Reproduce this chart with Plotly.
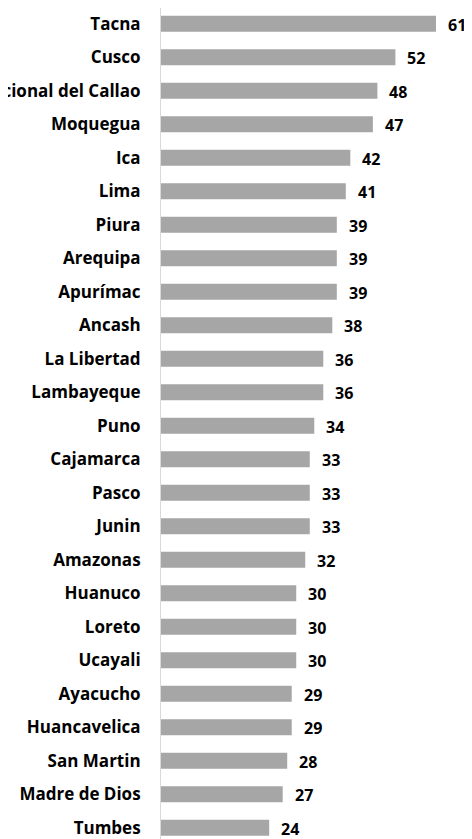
import plotly.graph_objects as go

regions = ["Tacna", "Cusco", "Provincia Constitucional del Callao", "Moquegua", "Ica", "Lima",
           "Piura", "Arequipa", "Apurímac", "Ancash", "La Libertad", "Lambayeque", "Puno",
           "Cajamarca", "Pasco", "Junin", "Amazonas", "Huanuco", "Loreto", "Ucayali",
           "Ayacucho", "Huancavelica", "San Martin", "Madre de Dios", "Tumbes"]
values = [61, 52, 48, 47, 42, 41, 39, 39, 39, 38, 36, 36, 34, 33, 33, 33, 32, 30, 30, 30,
          29, 29, 28, 27, 24]

FONT = "Open Sans"
fig = go.Figure()
fig.add_trace(go.Bar(
    x=values, y=regions, orientation="h",
    marker=dict(color="#a6a6a6", line=dict(width=0)),
    width=0.48, hoverinfo="skip",
))
for r, v in zip(regions, values):
    fig.add_annotation(x=v, y=r, text=f"<b>{v}</b>", showarrow=False,
                       xanchor="left", xshift=10, yshift=-1,
                       font=dict(family=FONT, size=16, color="#000000"))

fig.update_layout(
    width=464, height=831,
    margin=dict(l=153, r=0, t=0, b=0),
    paper_bgcolor="white", plot_bgcolor="white",
    showlegend=False,
    font=dict(family=FONT, size=16, color="#000000"),
    xaxis=dict(range=[0, 68.99], visible=False, fixedrange=True),
    yaxis=dict(type="category", range=[24.336, -0.47], showline=True,
               linecolor="#d9d9d9", linewidth=1, showgrid=False, zeroline=False,
               ticks="", ticklabelstandoff=16, automargin=False,
               tickfont=dict(family=FONT, size=17, color="#000000", weight="bold"),
               fixedrange=True),
)
fig.write_html("out.html", config={"displayModeBar": False})
